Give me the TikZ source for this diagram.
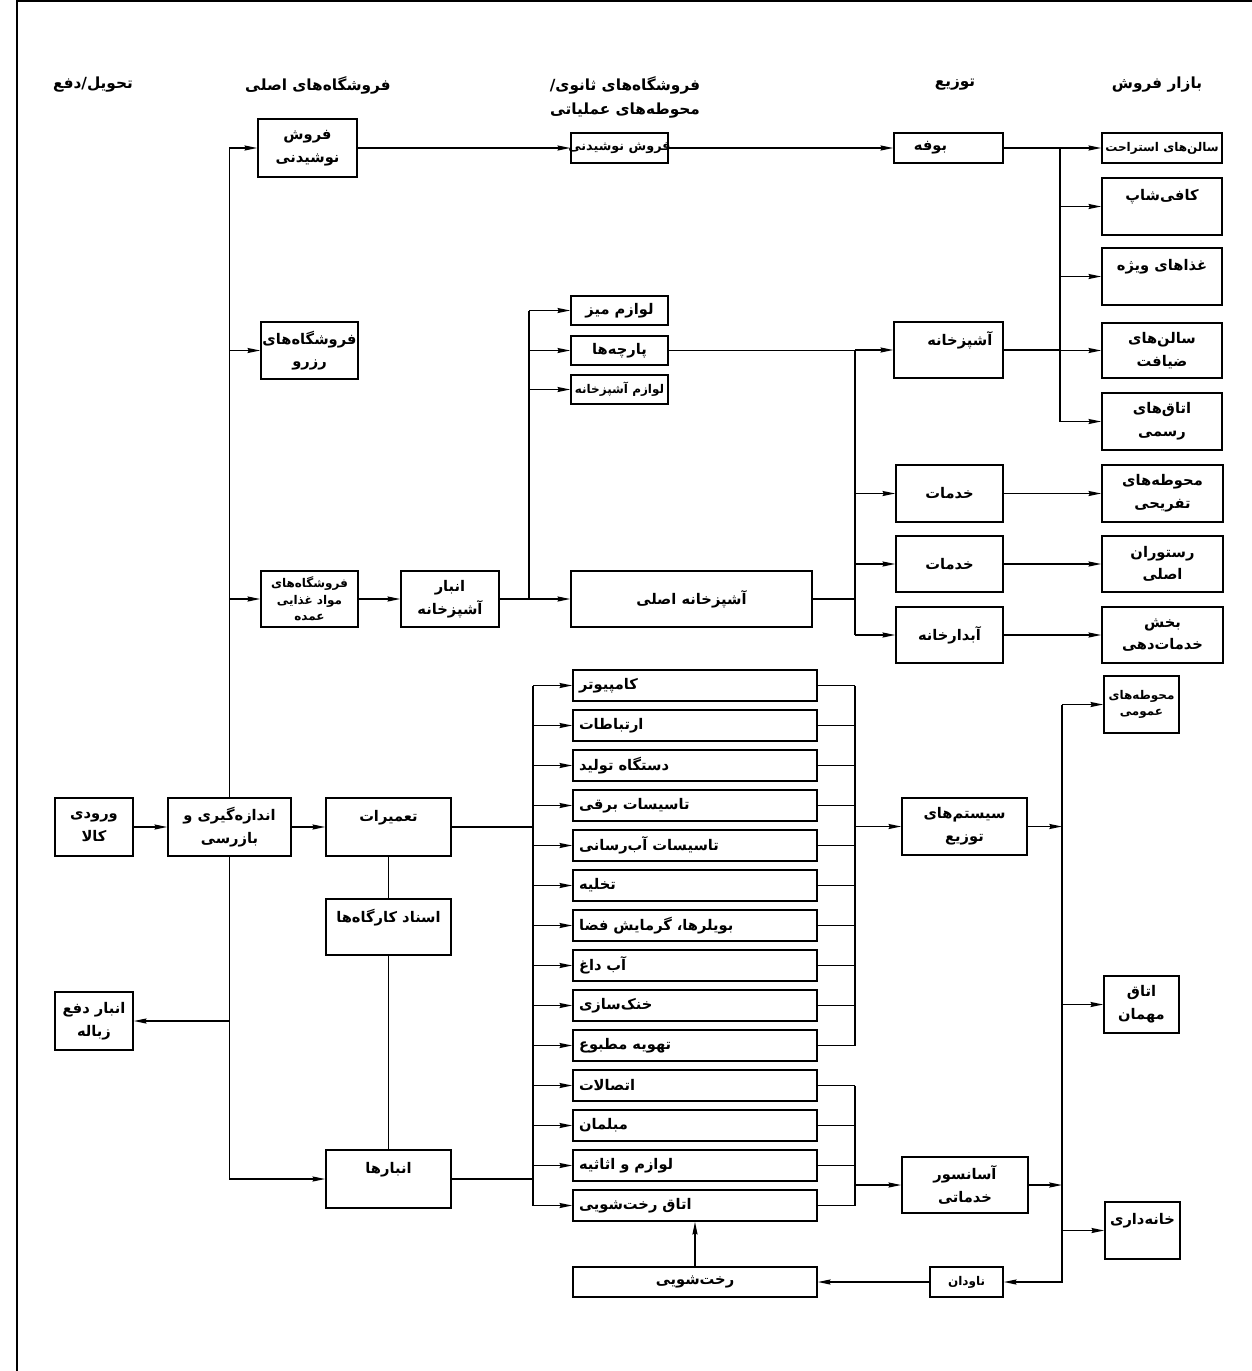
\documentclass[tikz,border=0pt]{standalone}
\usepackage{fontspec}
\newfontfamily\fafont[Script=Arabic]{DejaVu Sans}
\TeXXeTstate=1
\usetikzlibrary{arrows.meta}
\newcommand{\fa}[1]{\beginR#1\endR}
\newcommand{\bx}[7][]{\node[box,#1,minimum width={(#5-#3)*0.75pt},minimum height={(#6-#4)*0.75pt}] (#2) at ({(#3+#5)/2},{(#4+#6)/2}) {#7};}
\begin{document}
\begin{tikzpicture}[x=0.75pt,y=-0.75pt,
  box/.style={draw,line width=1.25pt,inner sep=0pt,align=center,font=\fafont\bfseries\fontsize{11}{17}\selectfont},
  small/.style={font=\fafont\bfseries\fontsize{9}{12.5}\selectfont},
  mid/.style={font=\fafont\bfseries\fontsize{9.6}{14}\selectfont},
  lbox/.style={text width=174pt,align=left},
  ln/.style={line width=1.1pt},
  ar/.style={line width=1.1pt,-{Stealth[length=9.5pt,width=3.8pt,inset=1pt]}},
  head/.style={font=\fafont\bfseries\fontsize{11.5}{18}\selectfont,align=center,inner sep=0pt}]
\useasboundingbox (0,0) rectangle (1252,1371);
\draw[line width=1pt] (17,1371) -- (17,1) -- (1252,1);

% headers
\node[head] (h1) at (93,85) {\fa{تحویل/دفع}};
\node[head] (h2) at (318,85) {\fa{فروشگاه^^^^200cهای اصلی}};
\node[head] (h3) at (625,97) {/\fa{فروشگاه^^^^200cهای ثانوی}\\\fa{محوطه^^^^200cهای عملیاتی}};
\node[head] (h4) at (955,85) {\fa{توزیع}};
\node[head] (h5) at (1157,85) {\fa{بازار فروش}};

% column 1
\bx{in}{55}{798}{133}{856}{\fa{ورودی}\\\fa{کالا}}
\bx{zb}{55}{992}{133}{1050}{\fa{انبار دفع}\\\fa{زباله}}
% column 2
\bx{fn1}{258}{119}{357}{177}{\fa{فروش}\\\fa{نوشیدنی}}
\bx{rz}{261}{322}{358}{379}{\fa{فروشگاه^^^^200cهای}\\\fa{رزرو}}
\bx[small]{mg}{261}{571}{358}{627}{\fa{فروشگاه^^^^200cهای}\\\fa{مواد غذایی}\\\fa{عمده}}
\bx{ab}{168}{798}{291}{856}{\fa{اندازه^^^^200cگیری و}\\\fa{بازرسی}}
\bx{tm}{326}{798}{451}{856}{\fa{تعمیرات}\\\mbox{}}
\bx{ak}{326}{899}{451}{955}{\fa{اسناد کارگاه^^^^200cها}\\\mbox{}}
\bx{an}{326}{1150}{451}{1208}{\fa{انبارها}\\\mbox{}}
% column 3
\bx{kb}{401}{571}{499}{627}{\fa{انبار}\\\fa{آشپزخانه}}
\bx[mid]{fs2}{571}{133}{668}{163}{\makebox[0pt]{\fa{فروش نوشیدنی}}}
\bx{t1}{571}{296}{668}{325}{\fa{لوازم میز}}
\bx{t2}{571}{336}{668}{365}{\fa{پارچه^^^^200cها}}
\bx[small]{t3}{571}{375}{668}{404}{\fa{لوازم آشپزخانه}}
\bx{mk}{571}{571}{812}{627}{\fa{آشپزخانه اصلی}}
\foreach \lab [count=\i from 0] in {کامپیوتر,ارتباطات,دستگاه تولید,تاسیسات برقی,تاسیسات آب^^^^200cرسانی,تخلیه,بویلرها، گرمایش فضا,آب داغ,خنک^^^^200cسازی,تهویه مطبوع,اتصالات,مبلمان,لوازم و اثاثیه,اتاق رخت^^^^200cشویی}
  {\bx[lbox]{L\i}{573}{(670+40*\i)}{817}{(701+40*\i)}{\fa{\lab}}}
\bx{rk}{573}{1267}{817}{1297}{\fa{رخت^^^^200cشویی}}
% column 4
\bx{bf}{894}{133}{1003}{163}{\fa{بوفه}\kern27pt}
\bx{ks}{894}{322}{1003}{378}{\kern17pt\fa{آشپزخانه}\\\mbox{}}
\bx{kh1}{896}{465}{1003}{522}{\fa{خدمات}}
\bx{kh2}{896}{536}{1003}{592}{\fa{خدمات}}
\bx{abd}{896}{607}{1003}{663}{\fa{آبدارخانه}}
\bx{sys}{902}{798}{1027}{855}{\fa{سیستم^^^^200cهای}\\\fa{توزیع}}
\bx{el}{902}{1157}{1028}{1213}{\fa{آسانسور}\\\fa{خدماتی}}
\bx[small]{nv}{930}{1267}{1003}{1297}{\fa{ناودان}}
% column 5
\bx[small]{m1}{1102}{133}{1222}{163}{\fa{سالن^^^^200cهای استراحت}}
\bx{m2}{1102}{178}{1222}{235}{\fa{کافی^^^^200cشاپ}\\\mbox{}}
\bx{m3}{1102}{248}{1222}{305}{\fa{غذاهای ویژه}\\\mbox{}}
\bx{m4}{1102}{323}{1222}{378}{\fa{سالن^^^^200cهای}\\\fa{ضیافت}}
\bx{m5}{1102}{393}{1222}{450}{\fa{اتاق^^^^200cهای}\\\fa{رسمی}}
\bx{r1}{1102}{465}{1223}{522}{\fa{محوطه^^^^200cهای}\\\fa{تفریحی}}
\bx{r2}{1102}{536}{1223}{592}{\fa{رستوران}\\\fa{اصلی}}
\bx{r3}{1102}{607}{1223}{663}{\fa{بخش}\\\fa{خدمات^^^^200cدهی}}
\bx[small]{g1}{1104}{676}{1179}{733}{\fa{محوطه^^^^200cهای}\\\fa{عمومی}}
\bx{g2}{1104}{976}{1179}{1033}{\fa{اتاق}\\\fa{مهمان}}
\bx{g3}{1105}{1202}{1180}{1259}{\fa{خانه^^^^200cداری}\\\mbox{}}

% junction coordinates
\coordinate (kx) at (529,0);
\coordinate (lx) at (533,0);
\coordinate (rx) at (855,0);
\coordinate (dx) at (855,0);
\coordinate (mx) at (1060,0);
\coordinate (gx) at (1062,0);

% connectors: intake and trunk
\draw[ar] (in.east) -- (ab.west);
\draw[ar] (ab.north) |- (fn1.west);
\draw[ar] (ab.north |- rz.west) -- (rz.west);
\draw[ar] (ab.north |- mg.west) -- (mg.west);
\draw[ar] (ab.south) |- (an.west);
\draw[ar] (ab.south |- zb.east) -- (zb.east);
\draw[ar] (ab.east) -- (tm.west);
\draw[ln] (tm.south) -- (ak.north);
\draw[ln] (ak.south) -- (an.north);

% maintenance list
\draw[ln] (tm.east) -- (tm.east -| lx);
\draw[ln] (an.east) -- (an.east -| lx);
\draw[ln] (lx |- L0.west) -- (lx |- L13.west);
\foreach \i in {0,...,13} {\draw[ar] (lx |- L\i.west) -- (L\i.west);}
\foreach \i in {0,...,9} {\draw[ln] (L\i.east) -- (L\i.east -| rx);}
\draw[ln] (rx |- L0.east) -- (rx |- L9.east);
\draw[ar] (rx |- sys.west) -- (sys.west);
\foreach \i in {10,...,13} {\draw[ln] (L\i.east) -- (L\i.east -| rx);}
\draw[ln] (rx |- L10.east) -- (rx |- L13.east);
\draw[ar] (rx |- el.west) -- (el.west);
\draw[ar] (rk.north) -- (L13.south);
\draw[ar] (nv.west) -- (rk.east);
\draw[ar] (sys.east) -- (sys.east -| gx);
\draw[ar] (el.east) -- (el.east -| gx);
\draw[ar] (gx |- g1.west) |- (nv.east);
\foreach \n in {g1,g2,g3} {\draw[ar] (gx |- \n.west) -- (\n.west);}

% food and beverage
\draw[ar] (mg.east) -- (kb.west);
\draw[ar] (kb.east) -- (mk.west);
\draw[ln] (kx |- kb.east) -- (kx |- t1.west);
\foreach \n in {t1,t2,t3} {\draw[ar] (kx |- \n.west) -- (\n.west);}
\draw[ar] (fn1.east) -- (fs2.west);
\draw[ar] (fs2.east) -- (bf.west);
\draw[ln] (t2.east) -- (t2.east -| dx);
\draw[ln] (mk.east) -- (mk.east -| dx);
\draw[ln] (dx |- t2.east) -- (dx |- abd.west);
\foreach \n in {ks,kh1,kh2,abd} {\draw[ar] (dx |- \n.west) -- (\n.west);}
\draw[ar] (bf.east) -- (m1.west);
\draw[ln] (mx |- bf.east) -- (mx |- m5.west);
\foreach \n in {m2,m3,m4,m5} {\draw[ar] (mx |- \n.west) -- (\n.west);}
\draw[ln] (ks.east) -- (ks.east -| mx);
\draw[ar] (kh1.east) -- (r1.west);
\draw[ar] (kh2.east) -- (r2.west);
\draw[ar] (abd.east) -- (r3.west);
\end{tikzpicture}
\end{document}
